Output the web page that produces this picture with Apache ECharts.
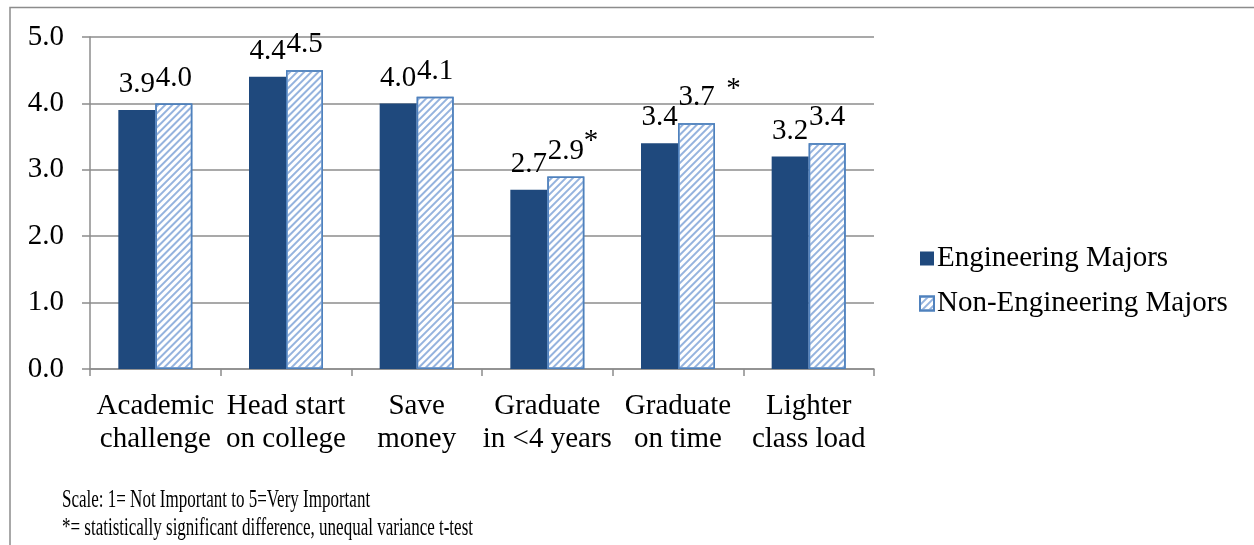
<!DOCTYPE html>
<html><head><meta charset="utf-8">
<script src="https://cdn.jsdelivr.net/npm/echarts@6/dist/echarts.min.js"></script>
<style>html,body{margin:0;padding:0;background:#fff}#c{width:1254px;height:545px}</style>
</head><body><div id="c"></div>
<script>
const categories = ['Academic\nchallenge','Head start\non college','Save\nmoney','Graduate\nin <4 years','Graduate\non time','Lighter\nclass load'];
const engineering = [3.9, 4.4, 4.0, 2.7, 3.4, 3.2];
const nonEngineering = [4.0, 4.5, 4.1, 2.9, 3.7, 3.4];
const significant = [false, false, false, true, true, false];
const yTicks = [0, 1, 2, 3, 4, 5];
const notes = ['Scale: 1= Not Important to 5=Very Important', '*= statistically significant difference, unequal variance t-test'];

const FONT = '"Liberation Serif", "Times New Roman", serif';
const FS = 29;
const chart = echarts.init(document.getElementById('c'), null, {renderer:'canvas'});
chart.setOption({
  animation: false,
  backgroundColor: '#fff',
  grid: {left: 90, right: 380, top: 37, bottom: 176},
  legend: {
    orient: 'vertical', left: 914, top: 239, itemWidth: 14, itemHeight: 14, itemGap: 16,
    icon: 'rect',
    textStyle: {fontFamily: FONT, fontSize: FS, color: '#000', padding:[0,0,0,-2]},
    data: ['Engineering Majors', 'Non-Engineering Majors']
  },
  xAxis: {
    type: 'category', data: categories,
    axisLine: {lineStyle: {color: '#8c8c8c', width: 1.5}},
    axisTick: {show: true, alignWithLabel: false, length: 7, lineStyle: {color: '#8c8c8c', width: 1.5}},
    axisLabel: {fontFamily: FONT, fontSize: FS, color: '#000', lineHeight: 33, margin: 21, interval: 0}
  },
  yAxis: {
    type: 'value', min: 0, max: 5, interval: 1,
    axisLine: {show: true, lineStyle: {color: '#8c8c8c', width: 1.5}},
    axisTick: {show: true, length: 8, lineStyle: {color: '#8c8c8c', width: 1.5}},
    splitLine: {lineStyle: {color: '#8c8c8c', width: 1.5}},
    axisLabel: {fontFamily: FONT, fontSize: FS, color: '#000', margin: 26, formatter: v => v.toFixed(1)}
  },
  series: [
    {
      name: 'Engineering Majors', type: 'bar', data: engineering,
      barWidth: 37, barGap: '0%',
      itemStyle: {color: '#1f497d'},
      label: {show: true, position: 'top', distance: 11, fontFamily: FONT, fontSize: FS, color: '#000',
        formatter: p => p.value.toFixed(1)}
    },
    {
      name: 'Non-Engineering Majors', type: 'bar', data: nonEngineering,
      barWidth: 37,
      itemStyle: {color: '#ffffff', borderColor: '#4f81bd', borderWidth: 1.5,
        decal: {symbol: 'rect', symbolSize: 1, dashArrayX: [1, 0], dashArrayY: [2, 3], rotation: -Math.PI/4, color: '#95b3de'}},
      label: {show: true, position: 'top', distance: 11, fontFamily: FONT, fontSize: FS, color: '#000',
        formatter: p => {
          const v = p.value.toFixed(1);
          if (!significant[p.dataIndex]) return v;
          return p.dataIndex === 4 ? '{p2|}{v|' + v + '}{s2|*}' : '{p|}{v|' + v + '}{s|*}';
        },
        rich: {
          v: {fontFamily: FONT, fontSize: FS, color: '#000', verticalAlign: 'bottom'},
          p: {width: 14, verticalAlign: 'bottom'},
          p2: {width: 26, verticalAlign: 'bottom'},
          s: {fontFamily: FONT, fontSize: FS, color: '#000', width: 14, align: 'left', verticalAlign: 'top', padding: [0, 0, 10, 0]},
          s2: {fontFamily: FONT, fontSize: FS, color: '#000', width: 26, align: 'right', verticalAlign: 'top', padding: [0, 0, 8, 0]}
        }
      }
    }
  ],
  graphic: [
    {type: 'polyline', shape: {points: [[10, 560], [10, 7.5], [1260, 7.5]]}, style: {stroke: '#8c8c8c', lineWidth: 1.5, fill: null}},
    {type: 'text', x: 62, y: 513, scaleY: 1.5, style: {x: 0, y: 0, text: notes[0], font: '17px ' + FONT, fill: '#000', verticalAlign: 'bottom'}},
    {type: 'text', x: 62, y: 541, scaleY: 1.5, style: {x: 0, y: 0, text: notes[1], font: '17px ' + FONT, fill: '#000', verticalAlign: 'bottom'}}
  ]
});
</script></body></html>
